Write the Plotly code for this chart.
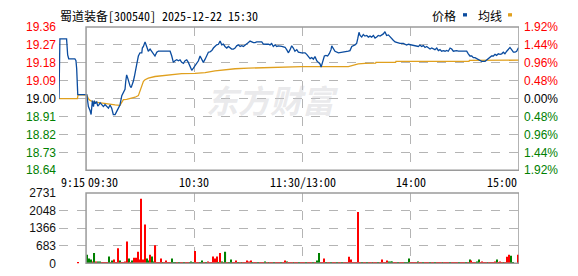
import plotly.graph_objects as go

# ---------------- data ----------------
stock_title = "蜀道装备[300540] 2025-12-22 15:30"
pre_close = 19.00

# time ticks: minutes from 09:30 (11:30 and 13:00 share 120)
time_ticks = [-15, 0, 60, 120, 180, 240]
time_labels = ["9:15", "09:30", "10:30", "11:30/13:00", "14:00", "15:00"]
grid_times = [-15, 60, 120, 180]

price_ticks = [19.36, 19.27, 19.18, 19.09, 19.00, 18.91, 18.82, 18.73, 18.64]
pct_ticks = [1.92, 1.44, 0.96, 0.48, 0.00, -0.48, -0.96, -1.44, -1.92]
vol_ticks = [0, 683, 1366, 2048, 2731]

price_minute = [
    -15, -14.5, -10.8, -10.2, -9.6, -6.2, -5.6, -5.2, -4.6, 0.4,
    0.7, 1.3, 2.2, 2.8, 3.5, 4.1, 4.6, 5.0, 5.9, 6.5, 7.2, 7.8, 8.7, 9.6, 10.5,
    11.5, 12.4, 13.3, 14.2, 15.1, 16.1, 17.0, 17.9, 18.8, 19.8, 20.7, 21.6, 22.0,
    22.5, 23.1, 23.8, 24.4, 25.0, 25.7, 26.2, 26.8, 27.2, 27.7, 28.3, 29.0, 29.9,
    30.9, 31.2, 31.8, 32.7, 33.6, 34.5, 35.5, 36.4, 37.3, 38.2, 39.2, 40.1, 43.8,
    46.6, 47.5, 48.4, 49.3, 50.3, 51.2, 52.1, 53.0, 54.0, 54.9, 55.8, 56.7, 57.6,
    58.6, 59.5, 60.4, 61.3, 62.3, 63.2, 64.1, 65.0, 66.0, 66.9, 67.8, 68.7, 69.7,
    70.6, 71.5, 72.4, 73.4, 74.3, 75.2, 76.1, 77.0, 78.0, 78.9, 79.8, 80.7, 81.7,
    82.6, 83.5, 84.4, 85.4, 86.3, 87.2, 88.1, 89.1, 90.0, 90.9, 91.8, 92.8, 93.7,
    94.6, 97.4, 98.3, 100.1, 101.1, 102.0, 102.9, 103.8, 104.8, 105.7, 106.6,
    108.5, 110.3, 111.2, 112.2, 113.1, 114.0, 114.9, 115.8, 116.8, 117.7, 119.5,
    121.4, 122.3, 123.2, 124.2, 125.1, 126.0, 126.9, 127.9, 128.8, 129.7, 130.3,
    131.2, 132.1, 133.0, 133.9, 134.9, 135.8, 136.2, 137.1, 138.0, 139.9, 143.6,
    145.4, 146.3, 147.3, 149.1, 150.0, 150.6, 151.3, 151.9, 152.8, 153.7, 154.6,
    155.6, 156.5, 157.4, 158.3, 159.3, 160.2, 161.1, 162.0, 163.0, 163.9, 164.8,
    165.7, 166.6, 167.6, 168.5, 169.4, 170.3, 171.3, 172.2, 173.1, 174.0, 175.9,
    176.8, 177.7, 178.7, 180.5, 181.4, 182.3, 184.2, 185.1, 186.0, 187.0, 187.9,
    188.8, 189.7, 190.7, 191.6, 192.5, 193.4, 194.4, 195.3, 196.2, 197.1, 198.1,
    199.0, 199.9, 200.8, 201.8, 202.7, 203.6, 205.4, 206.4, 211.0, 211.9, 212.8,
    213.8, 214.7, 215.6, 216.5, 217.5, 218.4, 219.3, 221.2, 222.1, 223.0, 223.9,
    224.8, 225.8, 226.7, 227.6, 228.5, 229.5, 230.4, 231.3, 232.2, 233.2, 234.1,
    235.0, 235.9, 236.9, 237.8, 238.7, 239.6, 240,
]
price_value = [
    19.00, 19.30, 19.30, 19.22, 19.20, 19.20, 19.19, 19.15, 19.02, 19.02,
    19.00, 18.96, 18.94, 18.92, 18.99, 18.96, 18.99, 18.975, 18.983, 18.963, 18.97,
    18.979, 18.97, 18.96, 18.97, 18.96, 18.952, 18.968, 18.952, 18.92, 18.92,
    18.936, 18.952, 18.968, 19.015, 19.031, 19.047, 19.087, 19.119, 19.103, 19.079,
    19.063, 19.055, 19.071, 19.087, 19.111, 19.134, 19.166, 19.182, 19.214, 19.23,
    19.23, 19.254, 19.262, 19.285, 19.262, 19.238, 19.249, 19.238, 19.222, 19.214,
    19.233, 19.238, 19.238, 19.238, 19.214, 19.182, 19.19, 19.195, 19.19, 19.195,
    19.182, 19.177, 19.19, 19.195, 19.182, 19.158, 19.142, 19.153, 19.165, 19.174,
    19.19, 19.214, 19.198, 19.182, 19.198, 19.217, 19.233, 19.235, 19.241, 19.254,
    19.262, 19.27, 19.273, 19.289, 19.27, 19.274, 19.262, 19.254, 19.262, 19.254,
    19.249, 19.249, 19.254, 19.265, 19.27, 19.262, 19.266, 19.262, 19.27, 19.277,
    19.282, 19.289, 19.285, 19.281, 19.281, 19.285, 19.285, 19.274, 19.273, 19.274,
    19.27, 19.277, 19.262, 19.27, 19.262, 19.265, 19.262, 19.258, 19.246, 19.23,
    19.246, 19.265, 19.254, 19.238, 19.246, 19.233, 19.23, 19.23, 19.222, 19.211,
    19.201, 19.206, 19.198, 19.211, 19.19, 19.182, 19.174, 19.158, 19.182, 19.214,
    19.217, 19.214, 19.227, 19.246, 19.265, 19.254, 19.238, 19.23, 19.233, 19.238,
    19.241, 19.262, 19.27, 19.277, 19.301, 19.333, 19.317, 19.309, 19.322, 19.314,
    19.317, 19.309, 19.314, 19.309, 19.317, 19.304, 19.309, 19.317, 19.314, 19.32,
    19.325, 19.336, 19.317, 19.32, 19.309, 19.301, 19.293, 19.285, 19.282, 19.28,
    19.277, 19.277, 19.273, 19.269, 19.273, 19.269, 19.269, 19.266, 19.262, 19.269,
    19.262, 19.266, 19.257, 19.262, 19.254, 19.249, 19.254, 19.249, 19.246, 19.254,
    19.241, 19.246, 19.238, 19.241, 19.238, 19.242, 19.238, 19.254, 19.249, 19.238,
    19.241, 19.238, 19.238, 19.225, 19.214, 19.214, 19.206, 19.206, 19.201, 19.193,
    19.19, 19.187, 19.187, 19.193, 19.201, 19.206, 19.214, 19.214, 19.222, 19.217,
    19.225, 19.222, 19.225, 19.233, 19.225, 19.238, 19.246, 19.257, 19.246, 19.233,
    19.233, 19.238, 19.254, 19.254,
]

avg_minute = [
    -15, -4.8, -4.4, 0.4, 1.3, 2.2, 4.1, 6.8, 10.5, 13.3, 16.1, 18.8, 19.8, 20.7,
    22.5, 24.4, 27.2, 29.0, 29.9, 30.5, 31.8, 32.7, 34.5, 38.2, 41.9, 45.6, 49.3,
    53.0, 60.4, 66.0, 71.5, 77.0, 82.6, 90.0, 97.4, 102.9, 119.5, 145.4, 147.3,
    150.9, 154.6, 160.5, 160.7, 171.6, 171.8, 212.3, 212.5, 240,
]
avg_value = [
    19.00, 19.00, 19.02, 19.018, 18.999, 18.991, 18.983, 18.979, 18.975, 18.972,
    18.968, 18.966, 18.983, 18.995, 18.996, 18.999, 19.007, 19.015, 19.039, 19.063,
    19.087, 19.095, 19.103, 19.111, 19.115, 19.119, 19.122, 19.125, 19.127, 19.131,
    19.139, 19.146, 19.15, 19.153, 19.155, 19.158, 19.161, 19.161, 19.166, 19.174,
    19.177, 19.178, 19.182, 19.182, 19.187, 19.187, 19.192, 19.193,
]

# call-auction volume (09:25) and per-minute volumes 09:30 .. 15:00 (241 bars)
auction_minute = [-5]
auction_volume = [40]
auction_dir = "r"

volumes = [
    330, 185, 150, 70, 405, 70, 75, 75, 35, 35,
    35, 35, 260, 35, 110, 150, 35, 590, 110, 35,
    35, 70, 850, 185, 35, 110, 220, 220, 445, 150,
    2510, 150, 1510, 185, 110, 330, 260, 75, 700, 35,
    35, 185, 35, 35, 110, 35, 35, 185, 35, 35,
    35, 35, 35, 35, 35, 35, 35, 35, 75, 35,
    480, 35, 35, 35, 110, 35, 35, 75, 35, 35,
    260, 185, 260, 35, 405, 75, 35, 445, 35, 35,
    150, 35, 35, 110, 35, 35, 35, 35, 35, 110,
    75, 110, 35, 35, 35, 35, 35, 35, 35, 75,
    35, 35, 35, 35, 35, 35, 35, 35, 35, 35,
    110, 75, 35, 35, 35, 35, 35, 35, 35, 35,
    35, 35, 35, 35, 35, 35, 35, 35, 110, 405,
    35, 35, 185, 35, 35, 35, 35, 35, 35, 35,
    35, 35, 35, 35, 35, 35, 258, 148, 35, 35,
    35, 1990, 35, 35, 35, 35, 35, 35, 35, 35,
    35, 35, 35, 35, 148, 35, 35, 110, 74, 74,
    74, 35, 35, 35, 35, 35, 35, 35, 35, 185,
    35, 35, 35, 35, 74, 35, 35, 35, 35, 35,
    35, 35, 35, 35, 35, 35, 35, 35, 35, 35,
    35, 35, 35, 35, 35, 35, 35, 35, 35, 35,
    35, 35, 35, 148, 110, 35, 35, 74, 148, 35,
    74, 35, 35, 35, 35, 35, 35, 74, 148, 35,
    74, 35, 35, 35, 258, 332, 295, 35, 0, 0,
    332,
]
vol_dir = (
    "gggrgrggrr" "rrgrgrrrgr" "rrrgrgrrrr" "rrrggrggrr" "rrgrrrrggg"
    "rgrrgrrggg" "rrrggrgrrr" "rrrgrgrgrg" "grrrgrgrrr" "rrgrrgrrrg"
    "rgrrgrrrgr" "rgrrrgrrgr" "rrgrrrgrgg" "rrrgrrgrrg" "rrgrrrrrrr"
    "rrrgrrgrrg" "rrgrrrrrgg" "grrgrrrggg" "rrrrgrrgrr" "rgrrgrrrgr"
    "rrgrrrrgrr" "rgrgrrrggr" "rrrgrrrrgr" "rrgrrrggrr" "r"
)

# ---------------- styles ----------------
RED = "#ff0000"
GREEN = "#008000"
BLUE = "#0b4c9f"
GOLD = "#e0a01e"
GRID = "#b4b4b4"
FRAME = "#9a9a9a"
W, H = 578, 276
NUM_FONT = "Liberation Sans, Arial, sans-serif"
CJK_FONT = "Noto Sans Mono CJK SC, Noto Sans CJK SC, sans-serif"


def px_x(p):
    return p / W


def px_y(p):
    return 1 - p / H


x_dom = [px_x(59), px_x(519)]
price_dom = [px_y(172), px_y(21)]
vol_dom = [px_y(270), px_y(196)]


def lvl_color(v, ref):
    if v > ref:
        return RED
    if v < ref:
        return GREEN
    return "#000000"


price_text = ['<span style="color:%s">%.2f</span>' % (lvl_color(v, pre_close), v)
              for v in price_ticks]
pct_text = ['<span style="color:%s">%.2f%%</span>' % (lvl_color(v, 0), abs(v))
            for v in pct_ticks]

col_map = {"r": RED, "g": GREEN}
bar_x = [0.7 + 0.995 * k for k in range(len(volumes))]
bar_c = [col_map[c] for c in vol_dir]

fig = go.Figure()
fig.add_trace(go.Scatter(x=avg_minute, y=avg_value, mode="lines",
                         line=dict(color=GOLD, width=1.3),
                         xaxis="x", yaxis="y", showlegend=False))
fig.add_trace(go.Scatter(x=price_minute, y=price_value, mode="lines",
                         line=dict(color=BLUE, width=1.3),
                         xaxis="x", yaxis="y", showlegend=False))
fig.add_trace(go.Bar(x=[m + 0.7 for m in auction_minute], y=auction_volume,
                     marker=dict(color=col_map[auction_dir], line=dict(width=0)),
                     width=0.6, xaxis="x2", yaxis="y3", showlegend=False,
                     hoverinfo="skip"))
fig.add_trace(go.Bar(x=bar_x, y=volumes,
                     marker=dict(color=bar_c, line=dict(width=0)),
                     width=0.6, xaxis="x2", yaxis="y3", showlegend=False,
                     hoverinfo="skip"))
# percent axis needs a (hidden) trace to be drawn
fig.add_trace(go.Scatter(x=[0], y=[0], mode="markers", marker=dict(opacity=0),
                         xaxis="x", yaxis="y2", showlegend=False, hoverinfo="skip"))

grid = dict(showgrid=True, gridcolor=GRID, griddash="dash", zeroline=False)

fig.update_layout(
    width=W, height=H,
    margin=dict(l=0, r=0, t=0, b=0, pad=0),
    plot_bgcolor="white",
    showlegend=False,
    xaxis=dict(domain=x_dom, range=[time_ticks[0], time_ticks[-1]], anchor="y",
               tickvals=grid_times, showticklabels=False, **grid),
    yaxis=dict(domain=price_dom, range=[price_ticks[-1], price_ticks[0]],
               tickvals=price_ticks, ticktext=price_text,
               tickfont=dict(family=NUM_FONT, size=12), ticklabelstandoff=2,
               anchor="x", **grid),
    yaxis2=dict(domain=price_dom, range=[pct_ticks[-1], pct_ticks[0]],
                tickvals=pct_ticks, ticktext=pct_text, side="right",
                overlaying="y", anchor="x", ticklabelstandoff=4, showgrid=False,
                zeroline=False, tickfont=dict(family=NUM_FONT, size=12)),
    xaxis2=dict(domain=x_dom, range=[time_ticks[0], time_ticks[-1]], anchor="y3",
                tickvals=grid_times, showticklabels=False, **grid),
    yaxis3=dict(domain=vol_dom, range=[vol_ticks[0], vol_ticks[-1]],
                tickvals=vol_ticks, ticktext=[str(v) for v in vol_ticks],
                tickfont=dict(family=NUM_FONT, size=12, color="#111111"),
                ticklabelstandoff=2, anchor="x2", **grid),
)

# solid frames around the continuous-trading session
for yref, xref in (("y domain", "x"), ("y3 domain", "x2")):
    fig.add_shape(type="rect", xref=xref, yref=yref, x0=0, x1=240, y0=0, y1=1,
                  line=dict(color=FRAME, width=1.5), fillcolor="rgba(0,0,0,0)")

# time labels under the price panel
anchors = ["left", "left", "center", "center", "center", "right"]
for t, lab, anc in zip(time_ticks, time_labels, anchors):
    fig.add_annotation(x=t, y=px_y(184), xref="x", yref="paper", text=lab,
                       showarrow=False, xanchor=anc, yanchor="middle",
                       font=dict(family=CJK_FONT, size=12, color="#000000"))

# title
fig.add_annotation(x=px_x(58), y=px_y(9), xref="paper", yref="paper", text=stock_title,
                   showarrow=False, xanchor="left", yanchor="middle",
                   font=dict(family=CJK_FONT, size=12, color="#000000"))

# legend
fig.add_annotation(x=px_x(430), y=px_y(9), xref="paper", yref="paper", text="价格",
                   showarrow=False, xanchor="left", yanchor="middle",
                   font=dict(family=CJK_FONT, size=12, color="#000000"))
fig.add_annotation(x=px_x(476), y=px_y(9), xref="paper", yref="paper", text="均线",
                   showarrow=False, xanchor="left", yanchor="middle",
                   font=dict(family=CJK_FONT, size=12, color="#000000"))
fig.add_shape(type="rect", xref="paper", yref="paper",
              x0=px_x(463), x1=px_x(467), y0=px_y(10), y1=px_y(6.5),
              line=dict(width=0), fillcolor=BLUE)
fig.add_shape(type="rect", xref="paper", yref="paper",
              x0=px_x(508), x1=px_x(512), y0=px_y(10), y1=px_y(6.5),
              line=dict(width=0), fillcolor=GOLD)

# watermark
fig.add_annotation(x=px_x(272), y=px_y(97), xref="paper", yref="paper",
                   text="<b><i>东方财富</i></b>", showarrow=False,
                   xanchor="center", yanchor="middle",
                   font=dict(family="Noto Sans CJK SC, sans-serif", size=32,
                             color="rgba(200,200,206,0.4)"))

fig.write_html("out.html")
